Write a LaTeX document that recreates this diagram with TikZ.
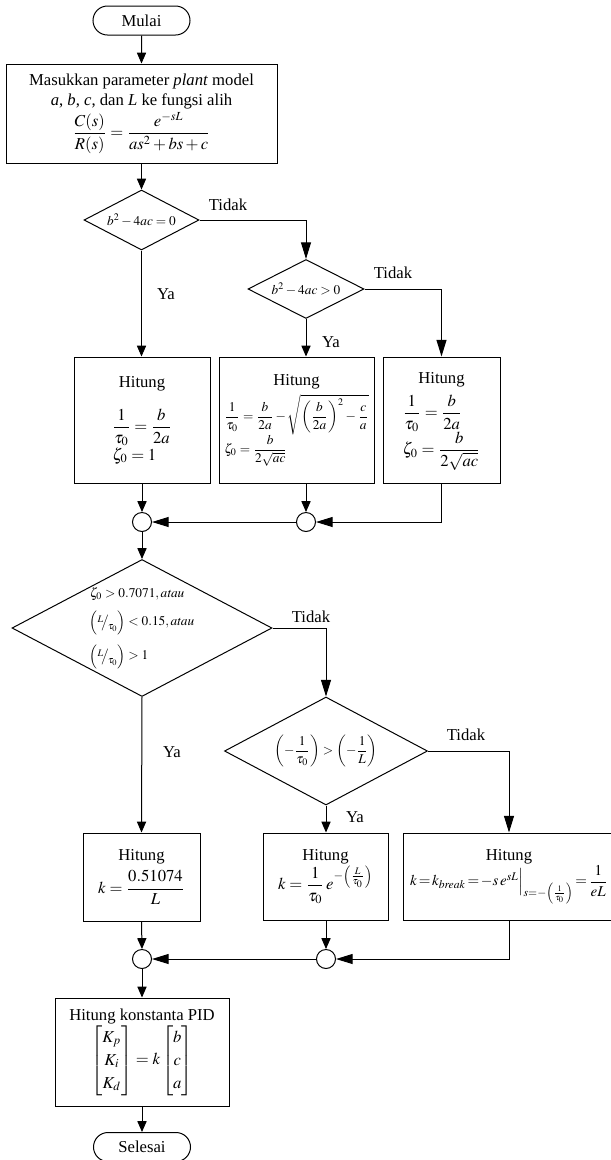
\documentclass[tikz,border=0pt]{standalone}
\usepackage{amsmath}
\usepackage{mathptmx}
\usepackage{fontspec}
\setmainfont{Liberation Serif}
\usetikzlibrary{arrows.meta,shapes.geometric,shapes.misc}
\newcommand{\slfr}[2]{\raisebox{0.5ex}{$\scriptstyle #1$}\!\big/\!\raisebox{-0.6ex}{$\scriptstyle #2$}}

\begin{document}
\begin{tikzpicture}[x=0.6pt, y=-0.6pt, line width=0.6pt,
    term/.style={draw, rounded rectangle, minimum width=58.2pt, minimum height=17.4pt, inner sep=0pt},
    proc/.style={draw, rectangle, inner sep=1pt, align=center},
    cond/.style={draw, diamond, inner sep=0pt, font=\footnotesize},
    junc/.style={draw, circle, minimum size=11.4pt, inner sep=0pt},
    sarr/.style={-{Triangle[length=6.5pt,width=5.5pt]}},
    larr/.style={-{Triangle[length=10pt,width=6pt]}},
    lbl/.style={inner sep=0pt}]
  \useasboundingbox (0,0) rectangle (611,1160);

  % Draw start and input block
  \node[term] (start) at (141.5,20.5) {Mulai};
  \node[proc, minimum width=162.6pt, minimum height=59.4pt] (input) at (141.5,113.5)
    {Masukkan parameter \textit{plant} model\\ \textit{a}, \textit{b}, \textit{c}, dan \textit{L} ke fungsi alih\\[1pt]
     $\dfrac{C(s)}{R(s)}=\dfrac{e^{-sL}}{as^2+bs+c}$};

  % Draw first decisions
  \node[cond, aspect=1.92, minimum width=69pt, minimum height=36pt] (dec1) at (141.5,220) {$b^2-4ac=0$};
  \node[cond, aspect=1.97, minimum width=69.6pt, minimum height=35.4pt] (dec2) at (306,289) {$b^2-4ac>0$};

  % Draw first row of blocks
  \node[proc, minimum width=81.6pt, minimum height=75.6pt] (boxA) at (142,420)
    {\begin{tabular}{@{}l@{}}\multicolumn{1}{@{}c@{}}{Hitung}\\[9pt]
     $\dfrac{1}{\tau_0}=\dfrac{b}{2a}$\\[5pt] $\zeta_0=1$\end{tabular}};
  \node[proc, minimum width=93pt, minimum height=75.6pt] (boxB) at (296.5,420)
    {\footnotesize\begin{tabular}{@{}l@{}}\multicolumn{1}{@{}c@{}}{\normalsize Hitung}\\[3pt]
     $\dfrac{1}{\tau_0}=\dfrac{b}{2a}-\sqrt{\left(\dfrac{b}{2a}\right)^2-\dfrac{c}{a}}$\\[1pt]
     $\zeta_0=\dfrac{b}{2\sqrt{ac}}$\end{tabular}};
  \node[proc, minimum width=70.2pt, minimum height=75.6pt] (boxC) at (441.5,420)
    {\begin{tabular}{@{}l@{}}\multicolumn{1}{@{}c@{}}{Hitung}\\[3pt]
     $\dfrac{1}{\tau_0}=\dfrac{b}{2a}$\\[1pt] $\zeta_0=\dfrac{b}{2\sqrt{ac}}$\end{tabular}};

  % Draw junctions
  \node[junc] (j1) at (142,522) {};
  \node[junc] (j2) at (306,522) {};

  % Draw second decisions
  \node[cond, aspect=1.9, minimum width=156pt, minimum height=82.2pt, align=left] (dec3) at (142,628)
    {$\zeta_0>0.7071,\mathit{atau}$\\[5pt]
     $\left(\slfr{L}{\tau_0}\right)<0.15,\mathit{atau}$\\[5pt]
     $\left(\slfr{L}{\tau_0}\right)>1$};
  \node[cond, aspect=1.88, minimum width=121.8pt, minimum height=64.8pt] (dec4) at (326,751)
    {$\left(-\dfrac{1}{\tau_0}\right)>\left(-\dfrac{1}{L}\right)$};

  % Draw second row of blocks
  \node[proc, minimum width=70.2pt, minimum height=52.8pt] (boxD) at (141.5,877)
    {Hitung\\[3pt] $k=\dfrac{0.51074}{L}$};
  \node[proc, minimum width=75pt, minimum height=52.2pt] (boxE) at (325.5,876.5)
    {Hitung\\ $k=\dfrac{1}{\tau_0}\,e^{-\left(\frac{L}{\tau_0}\right)}$};
  \node[proc, minimum width=127.2pt, minimum height=52.2pt] (boxF) at (509,876.5)
    {Hitung\\ \small$k\!=\!k_{\mathit{break}}\!=\!-s\,e^{sL}\Big|_{s=-\left(\frac{1}{\tau_0}\right)}\!=\!\dfrac{1}{eL}$};

  \node[junc] (j3) at (142,959) {};
  \node[junc] (j4) at (326,959) {};

  % Draw PID block and end
  \node[proc, minimum width=104.4pt, minimum height=64.8pt] (pid) at (142,1052)
    {Hitung konstanta PID\\
     $\renewcommand{\arraystretch}{1.15}\begin{bmatrix}K_p\\ K_i\\ K_d\end{bmatrix}=k\begin{bmatrix}b\\ c\\ a\end{bmatrix}$};
  \node[term] (stop) at (142,1147) {Selesai};

  % Draw labels
  \node[lbl] (t1) at (228,205) {Tidak};
  \node[lbl] (y1) at (166,294) {Ya};
  \node[lbl] (t2) at (393,273) {Tidak};
  \node[lbl] (y2) at (331,342) {Ya};
  \node[lbl] (t3) at (311,617) {Tidak};
  \node[lbl] (y3) at (172,752) {Ya};
  \node[lbl] (t4) at (466,735) {Tidak};
  \node[lbl] (y4) at (355,817) {Ya};

  % Draw connectors
  \draw[sarr] (start) -- (input);
  \draw[sarr] (input) -- (dec1);
  \draw[sarr] (dec1.south) -- (dec1.south |- boxA.north);
  \draw[larr] (dec1.east) -| (dec2.north);
  \draw[sarr] (dec2.south) -- (dec2.south |- boxB.north);
  \draw[larr] (dec2.east) -| (boxC.north);
  \draw[sarr] (boxA.south) -- (j1.north);
  \draw[sarr] (dec2.south |- boxB.south) -- (j2.north);
  \draw[larr] (boxC.south) |- (j2.east);
  \draw[larr] (j2.west) -- (j1.east);
  \draw[sarr] (j1.south) -- (dec3.north);
  \draw[sarr] (dec3.south) -- (boxD.north);
  \draw[larr] (dec3.east) -| (dec4.north);
  \draw[sarr] (dec4.south) -- (dec4.south |- boxE.north);
  \draw[larr] (dec4.east) -| (boxF.north);
  \draw[sarr] (boxD.south) -- (j3.north);
  \draw[sarr] (j4.north |- boxE.south) -- (j4.north);
  \draw[larr] (boxF.south) |- (j4.east);
  \draw[larr] (j4.west) -- (j3.east);
  \draw[sarr] (j3.south) -- (pid.north);
  \draw[sarr] (pid.south) -- (stop.north);
\end{tikzpicture}
\end{document}
